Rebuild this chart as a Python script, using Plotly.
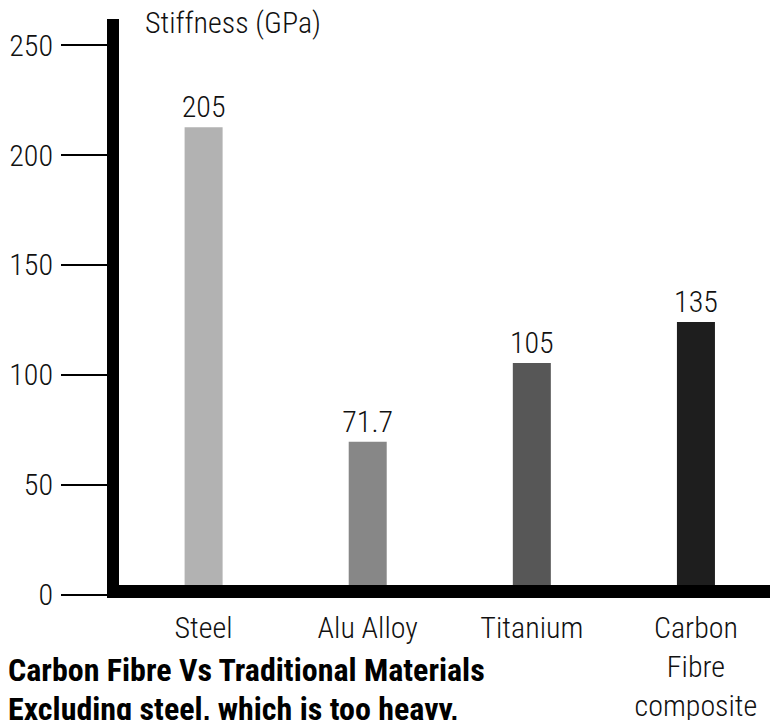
import plotly.graph_objects as go

# Data
materials = ["Steel", "Alu Alloy", "Titanium", "Carbon<br>Fibre<br>composite"]
bar_heights = [212.7, 69.5, 105.4, 124.0]   # drawn bar heights (GPa scale)
value_labels = ["205", "71.7", "105", "135"]
bar_colors = ["#b2b2b2", "#878787", "#575757", "#1e1e1e"]
y_ticks = [0, 50, 100, 150, 200, 250]

FONT = "Roboto Condensed, Roboto, sans-serif"
W, H = 770, 712
L, T, B = 111, 11, 122
PW, PH = W - L, H - T - B

fig = go.Figure()
fig.add_trace(go.Bar(
    x=materials,
    y=bar_heights,
    marker=dict(color=bar_colors, line=dict(width=0)),
    text=value_labels,
    textposition="outside",
    constraintext="none",
    textfont=dict(family=FONT, size=30, color="#111111", weight=300),
    cliponaxis=False,
    width=0.2316,
    hoverinfo="skip",
))

fig.update_layout(
    width=W, height=H,
    margin=dict(l=L, r=0, t=T, b=B, autoexpand=False),
    paper_bgcolor="white", plot_bgcolor="white",
    showlegend=False,
    font=dict(family=FONT, size=30, color="#111111", weight=300),
    xaxis=dict(
        type="category",
        range=[-0.5155, 3.50],
        showgrid=False, zeroline=False, showline=False,
        ticks="", tickfont=dict(family=FONT, size=30, color="#111111", weight=300),
        ticklabelstandoff=9, automargin=False,
    ),
    yaxis=dict(
        range=[-1.55, 261.9],
        tickvals=y_ticks,
        showgrid=False, zeroline=False,
        showline=True, linewidth=12, linecolor="black",
        ticks="outside", ticklen=46, tickwidth=2, tickcolor="black",
        tickfont=dict(family=FONT, size=30, color="#111111", weight=300),
        ticklabelstandoff=2, automargin=False,
        layer="above traces",
    ),
    shapes=[dict(
        type="rect", xref="paper", yref="paper",
        x0=0, x1=1, y0=0, y1=13 / PH,
        fillcolor="black", line=dict(width=0), layer="above",
    )],
    annotations=[
        dict(text="Stiffness (GPa)", xref="paper", yref="paper",
             x=(146 - 119) / PW, y=1.0, xanchor="left", yanchor="bottom",
             showarrow=False, yshift=-23, xshift=-3,
             font=dict(family=FONT, size=30, color="#111111", weight=300)),
        dict(text="<b>Carbon Fibre Vs Traditional Materials</b>",
             xref="paper", yref="paper",
             x=(8 - 119) / PW, y=0, xanchor="left", yanchor="top", align="left",
             showarrow=False, yshift=-51, xshift=-2,
             font=dict(family=FONT, size=32, color="#000000", weight=700)),
        dict(text="<b>Excluding steel, which is too heavy,</b>",
             xref="paper", yref="paper",
             x=(8 - 119) / PW, y=0, xanchor="left", yanchor="top", align="left",
             showarrow=False, yshift=-90, xshift=-2,
             font=dict(family=FONT, size=32, color="#000000", weight=700)),
    ],
)

fig.write_html("out.html")
